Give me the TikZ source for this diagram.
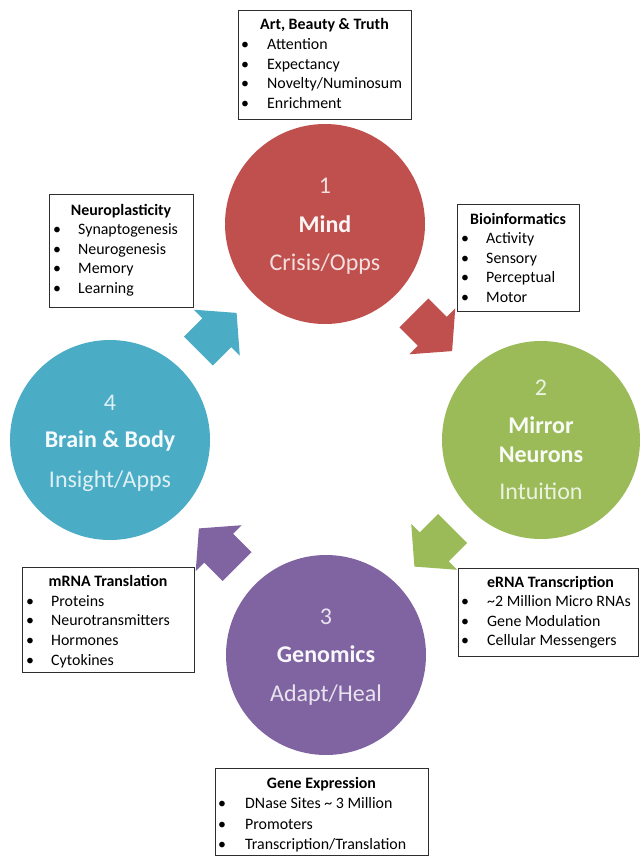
\documentclass[tikz,border=0pt]{standalone}
\usepackage{fontspec}
\setmainfont{Carlito}
\usetikzlibrary{calc}
\definecolor{cred}{HTML}{C0504D}
\definecolor{cgreen}{HTML}{9BBB59}
\definecolor{cpurple}{HTML}{8064A2}
\definecolor{cblue}{HTML}{4BACC6}
\begin{document}
\begin{tikzpicture}[x=1pt,y=-1pt,
  stage/.style={circle,inner sep=0,minimum size=200,draw=none},
  numtxt/.style={anchor=base,inner sep=0,text=white,text opacity=0.82,font=\fontsize{24}{28}\selectfont},
  nametxt/.style={anchor=base,inner sep=0,text=white,text opacity=0.95,font=\fontsize{24}{28}\selectfont\bfseries},
  subtxt/.style={anchor=base,inner sep=0,text=white,text opacity=0.82,font=\fontsize{24}{28}\selectfont},
  infobox/.style={draw=black!82,line width=1.3pt,fill=white,inner sep=0,anchor=north west},
  boxtitle/.style={anchor=base,inner sep=0,font=\fontsize{15.9}{19}\selectfont\bfseries},
  boxitem/.style={anchor=base west,inner sep=0,font=\fontsize{15.9}{19}\selectfont},
  bul/.style={anchor=base,inner sep=0,font=\fontsize{15.9}{19}\selectfont},
  cyclearrow/.pic={\fill[#1] (-27,-20.5) -- (-1,-20.5) -- (-1,-32.5) -- (27,0)
                    -- (-1,32.5) -- (-1,20.5) -- (-27,20.5) -- cycle;}]

\useasboundingbox (0,0) rectangle (640,856);
\fill[white] (0,0) rectangle (640,856);

% the four stages of the cycle
\node[stage,fill=cred] (c1) at (325,224) {};
\node[stage,fill=cgreen,minimum size=198] (c2) at (541,440) {};
\node[stage,fill=cpurple] (c3) at (326,655) {};
\node[stage,fill=cblue] (c4) at (110,440) {};

% block arrows between consecutive stages
\pic[rotate=-45]  at ($(c1)!0.5!(c2)$) {cyclearrow=cred};
\pic[rotate=-135] at ($(c2)!0.5!(c3)$) {cyclearrow=cgreen};
\pic[rotate=135]  at ($(c3)!0.5!(c4)$) {cyclearrow=cpurple};
\pic[rotate=45]   at ($(c4)!0.5!(c1)$) {cyclearrow=cblue};

% stage labels
\node[numtxt]  (n1) at (325,193) {1};
\node[nametxt] (m1) at (325,232) {Mind};
\node[subtxt]  (s1) at (325,270) {Crisis/Opps};

\node[numtxt]  (n2) at (541,395) {2};
\node[nametxt] (m2a) at (541,433) {Mirror};
\node[nametxt] (m2b) at (541,462) {Neurons};
\node[subtxt]  (s2) at (541,499) {Intuition};

\node[numtxt]  (n3) at (326,624) {3};
\node[nametxt] (m3) at (326,662) {Genomics};
\node[subtxt]  (s3) at (326,701) {Adapt/Heal};

\node[numtxt]  (n4) at (110,410) {4};
\node[nametxt] (m4) at (110,447) {Brain \& Body};
\node[subtxt]  (s4) at (110,487) {Insight/Apps};

% Art, Beauty & Truth
\node[infobox,minimum width=173,minimum height=109] (b1) at (238,10) {};
\node[boxtitle] (b1t) at (324.5,30) {Art, Beauty \& Truth};
\foreach \t [count=\i] in {Attention,Expectancy,Novelty/Numinosum,Enrichment}{
  \node[bul] (b1d\i) at (245,{30+19.6*\i}) {•};
  \node[boxitem] (b1i\i) at (267,{30+19.6*\i}) {\t};
}

% Bioinformatics
\node[infobox,minimum width=122,minimum height=107] (b2) at (457,204) {};
\node[boxtitle] (b2t) at (518,224) {Bioinformatics};
\foreach \t [count=\i] in {Activity,Sensory,Perceptual,Motor}{
  \node[bul] (b2d\i) at (465,{224+19.6*\i}) {•};
  \node[boxitem] (b2i\i) at (486,{224+19.6*\i}) {\t};
}

% Neuroplasticity
\node[infobox,minimum width=144,minimum height=113] (b4) at (49,194) {};
\node[boxtitle] (b4t) at (121,215) {Neuroplasticity};
\foreach \t [count=\i] in {Synaptogenesis,Neurogenesis,Memory,Learning}{
  \node[bul] (b4d\i) at (57,{215+19.5*\i}) {•};
  \node[boxitem] (b4i\i) at (78,{215+19.5*\i}) {\t};
}

% mRNA Translation
\node[infobox,minimum width=172,minimum height=105] (b3) at (22,567) {};
\node[boxtitle] (b3t) at (108,586.7) {mRNA Translation};
\foreach \t [count=\i] in {Proteins,Neurotransmitters,Hormones,Cytokines}{
  \node[bul] (b3d\i) at (30,{586.7+19.6*\i}) {•};
  \node[boxitem] (b3i\i) at (51,{586.7+19.6*\i}) {\t};
}

% eRNA Transcription
\node[infobox,minimum width=180,minimum height=88] (b5) at (458,568) {};
\node[boxitem,font=\fontsize{15.9}{19}\selectfont\bfseries] (b5t) at (487,587.3) {eRNA Transcription};
\foreach \t [count=\i] in {\textasciitilde2 Million Micro RNAs,Gene Modulation,Cellular Messengers}{
  \node[bul] (b5d\i) at (465,{587.3+19.4*\i}) {•};
  \node[boxitem] (b5i\i) at (487,{587.3+19.4*\i}) {\t};
}

% Gene Expression
\node[infobox,minimum width=213,minimum height=87] (b6) at (215,768) {};
\node[boxtitle] (b6t) at (321.5,788.3) {Gene Expression};
\foreach \t [count=\i] in {DNase Sites \textasciitilde\ 3 Million,Promoters,Transcription/Translation}{
  \node[bul] (b6d\i) at (222,{788.3+20.5*\i}) {•};
  \node[boxitem] (b6i\i) at (245,{788.3+20.5*\i}) {\t};
}
\end{tikzpicture}
\end{document}
